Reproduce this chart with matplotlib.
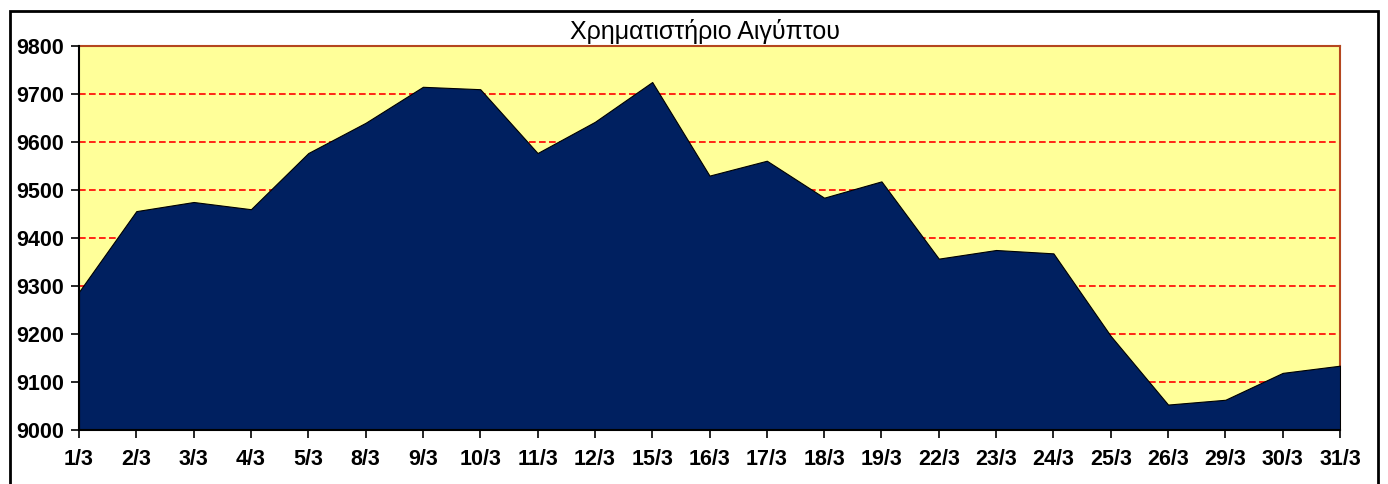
import matplotlib
matplotlib.use("Agg")
import matplotlib.pyplot as plt
from matplotlib.patches import Rectangle

# Egyptian stock exchange index, March
dates = ["1/3", "2/3", "3/3", "4/3", "5/3", "8/3", "9/3", "10/3", "11/3", "12/3",
         "15/3", "16/3", "17/3", "18/3", "19/3", "22/3", "23/3", "24/3", "25/3",
         "26/3", "29/3", "30/3", "31/3"]
values = [9288, 9456, 9475, 9460, 9577, 9640, 9715, 9710, 9577, 9642,
          9725, 9530, 9561, 9484, 9518, 9357, 9375, 9368, 9196,
          9053, 9063, 9119, 9134]
yticks = [9000, 9100, 9200, 9300, 9400, 9500, 9600, 9700, 9800]

plt.rcParams["font.family"] = ["Liberation Sans", "DejaVu Sans"]

fig = plt.figure(figsize=(13.88, 4.84), dpi=100)
ax = fig.add_axes([79 / 1388, 54 / 484, 1261 / 1388, 384 / 484])

x = list(range(len(dates)))
ax.set_facecolor("#FFFF99")
ax.fill_between(x, 9000, values, color="#002060", edgecolor="black", linewidth=0.8, zorder=3)

ax.set_xlim(0, len(dates) - 1)
ax.set_ylim(9000, 9800)
ax.set_yticks(yticks)
ax.set_xticks(x)
ax.set_xticklabels(dates)
for lab in ax.get_xticklabels() + ax.get_yticklabels():
    lab.set_fontweight("bold")
    lab.set_fontsize(15.5)
ax.tick_params(axis="both", direction="out", length=6, width=1.2, colors="black")
ax.tick_params(axis="x", pad=8)
ax.tick_params(axis="y", pad=5)

ax.yaxis.grid(True, color="#FF0000", linestyle=(0, (4, 2)), linewidth=1.2, zorder=1)
ax.set_axisbelow(True)

for side in ["left", "bottom"]:
    ax.spines[side].set_color("black")
    ax.spines[side].set_linewidth(1.5)
    ax.spines[side].set_zorder(5)
for side in ["top", "right"]:
    ax.spines[side].set_color("#B5471F")
    ax.spines[side].set_linewidth(1.5)

fig.text(705 / 1388, 1 - 32 / 484, "Χρηματιστήριο Αιγύπτου", ha="center", va="center",
         fontsize=18)

# outer chart border
fig.patches.append(Rectangle((10 / 1388, -0.05), 1368 / 1388, 1.05 - 11 / 484,
                             transform=fig.transFigure, fill=False,
                             edgecolor="black", linewidth=2))

fig.savefig("out.png", dpi=100)
